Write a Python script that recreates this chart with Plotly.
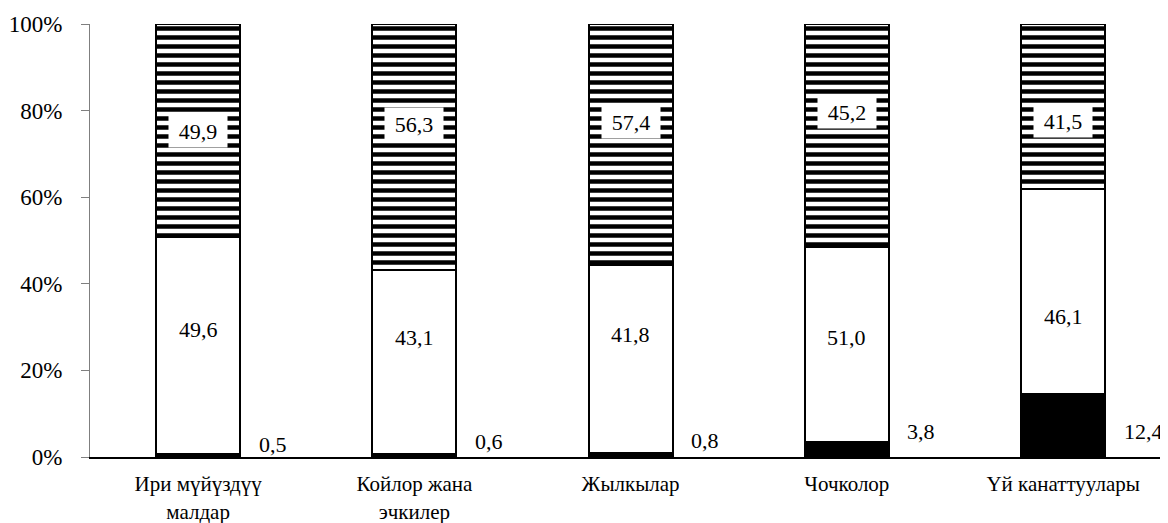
import plotly.graph_objects as go

# ---- data ----
categories = ["Ири мүйүздүү<br>малдар", "Койлор жана<br>эчкилер", "Жылкылар", "Чочколор", "Үй канаттуулары"]

# segment heights as drawn in the picture (%)
black_vals = [0.8, 0.6, 1.0, 3.5, 14.6]
white_vals = [49.9, 42.7, 43.4, 44.9, 47.4]
striped_vals = [49.3, 56.7, 55.6, 51.6, 38.0]

# printed data labels
black_labels = ["0,5", "0,6", "0,8", "3,8", "12,4"]
white_labels = ["49,6", "43,1", "41,8", "51,0", "46,1"]
striped_labels = ["49,9", "56,3", "57,4", "45,2", "41,5"]

y_tickvals = [0, 20, 40, 60, 80, 100]
y_ticktext = ["0%", "20%", "40%", "60%", "80%", "100%"]

# ---- label placement (layout constants) ----
TOP_LABEL_Y = [75.3, 76.9, 77.3, 79.6, 77.6]
MID_LABEL_Y = [29.4, 27.5, 28.2, 27.5, 32.4]
SMALL_LABEL_Y = [3.0, 3.5, 3.8, 5.8, 5.8]
SMALL_LABEL_DX = 0.27

FONT = "Liberation Serif"
xs = list(range(len(categories)))

fig = go.Figure()
outline = dict(color="black", width=2)
fig.add_trace(go.Bar(x=xs, y=black_vals, marker=dict(color="black", line=outline), hoverinfo="skip"))
fig.add_trace(go.Bar(x=xs, y=white_vals, marker=dict(color="white", line=outline), hoverinfo="skip"))
fig.add_trace(go.Bar(
    x=xs, y=striped_vals,
    marker=dict(color="white", line=outline,
                pattern=dict(shape="-", fgcolor="black", bgcolor="white", fgopacity=1,
                             fillmode="replace", size=9, solidity=0.5)),
    hoverinfo="skip"))

ann = []
for i in xs:
    ann.append(dict(x=i, y=TOP_LABEL_Y[i], xref="x", yref="y", text=striped_labels[i], showarrow=False,
                    bgcolor="white", font=dict(family=FONT, size=22, color="black"),
                    width=56, height=30))
    ann.append(dict(x=i, y=MID_LABEL_Y[i], xref="x", yref="y", text=white_labels[i], showarrow=False,
                    font=dict(family=FONT, size=22, color="black")))
    ann.append(dict(x=i + SMALL_LABEL_DX, y=SMALL_LABEL_Y[i], xref="x", yref="y", text=black_labels[i],
                    showarrow=False, xanchor="left", font=dict(family=FONT, size=22, color="black")))

# page body has an 8px default margin, so the figure is sized/offset to compensate
fig.update_layout(
    width=1160, height=515,
    margin=dict(l=82, r=0, t=16, b=66),
    barmode="stack", bargap=0.612,
    showlegend=False,
    plot_bgcolor="white", paper_bgcolor="white",
    font=dict(family=FONT, size=21, color="black"),
    annotations=ann,
)
fig.update_xaxes(
    range=[-0.5, 4.485], tickvals=xs, ticktext=categories,
    showline=True, linecolor="black", linewidth=2, ticks="", showgrid=False, zeroline=False,
    ticklabelstandoff=7,
    tickfont=dict(family=FONT, size=21, color="black"), fixedrange=True,
)
fig.update_yaxes(
    range=[0, 100], tickvals=y_tickvals, ticktext=y_ticktext,
    showline=True, linecolor="#7f7f7f", linewidth=1, ticks="outside", ticklen=8, tickcolor="#7f7f7f",
    showgrid=False, zeroline=False, ticklabelstandoff=14,
    tickfont=dict(family=FONT, size=23, color="black"), fixedrange=True,
)

fig.write_html("out.html")
